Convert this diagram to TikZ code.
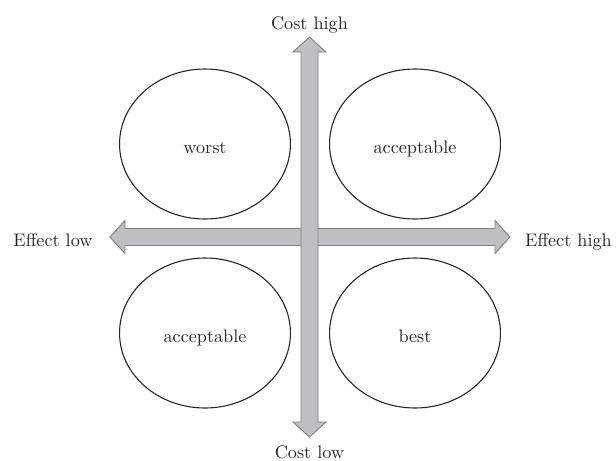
\documentclass[tikz,border=0pt]{standalone}
\usetikzlibrary{shapes.geometric}

\definecolor{axisfill}{RGB}{190,191,195}
\definecolor{axisline}{RGB}{128,128,132}

\tikzset{
  quadrant/.style={ellipse, draw=black!85, line width=0.6pt, text=black!85,
    minimum width=94pt, minimum height=82.5pt, inner sep=0pt,
    text height=2.4ex, text depth=0pt},
  axisarrow/.style={draw=axisline, fill=axisfill, line width=0.5pt, line join=miter},
  axislabel/.style={text=black!85, inner sep=0pt, anchor=base}
}

\begin{document}
\begin{tikzpicture}[x=0.55pt, y=-0.55pt]
  \useasboundingbox (0,0) rectangle (616,460);

  % effect axis (horizontal block arrow)
  \draw[axisarrow] (125,228.5) -- (125,220.5) -- (110,237) -- (125,253.5) -- (125,245.5)
    -- (495,245.5) -- (495,253.5) -- (510,237) -- (495,220.5) -- (495,228.5) -- cycle;
  % cost axis on top
  \draw[axisarrow] (301,52) -- (293,52) -- (309.5,37) -- (326,52) -- (318,52)
    -- (318,422) -- (326,422) -- (309.5,437) -- (293,422) -- (301,422) -- cycle;

  % axis ends
  \node[axislabel] (costhigh) at (309.5,29.5) {Cost high};
  \node[axislabel] (costlow) at (309.5,458) {Cost low};
  \node[axislabel] (effectlow) at (53,246) {Effect low};
  \node[axislabel] (effecthigh) at (568.5,246) {Effect high};

  % quadrants
  \node[quadrant] (worst) at (205,144) {worst};
  \node[quadrant] (accept1) at (415,144) {acceptable};
  \node[quadrant] (accept2) at (205,333) {acceptable};
  \node[quadrant] (best) at (415,333) {best};
\end{tikzpicture}
\end{document}
